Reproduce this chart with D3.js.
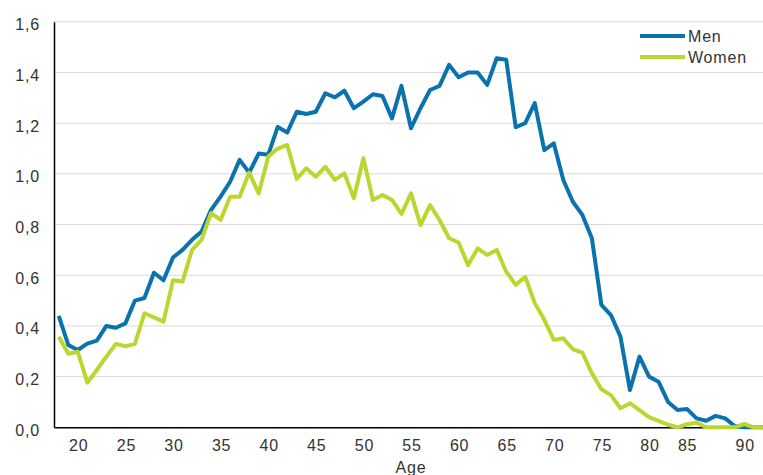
<!DOCTYPE html>
<html>
<head>
<meta charset="utf-8">
<script src="https://cdn.jsdelivr.net/npm/d3@7"></script>
<style>
  html, body { margin: 0; padding: 0; background: #ffffff; overflow: hidden; }
  svg { display: block; }
  text { font-family: "Liberation Sans", Arial, sans-serif; fill: #333333; }
</style>
</head>
<body>
<svg id="chart" width="763" height="475"></svg>
<script>
// ---- Data ----
const ages = d3.range(18, 93);
const menValues = [
  0.44, 0.325, 0.305, 0.33, 0.342, 0.40, 0.393, 0.41, 0.50, 0.51,
  0.61, 0.58, 0.67, 0.70, 0.74, 0.772, 0.858, 0.91, 0.969, 1.055,
  1.005, 1.08, 1.075, 1.185, 1.163, 1.245, 1.236, 1.245, 1.318, 1.302,
  1.328, 1.259, 1.285, 1.314, 1.307, 1.219, 1.347, 1.18, 1.259, 1.331,
  1.347, 1.43, 1.381, 1.40, 1.40, 1.351, 1.456, 1.45, 1.184, 1.20,
  1.279, 1.094, 1.12, 0.976, 0.89, 0.838, 0.746, 0.483, 0.443, 0.358,
  0.147, 0.279, 0.20, 0.18, 0.10, 0.068, 0.072, 0.035, 0.026, 0.045,
  0.035, 0.005, 0, 0, 0
];
const womenValues = [
  0.357, 0.29, 0.298, 0.176, 0.226, 0.279, 0.329, 0.32, 0.329, 0.45,
  0.434, 0.417, 0.58, 0.575, 0.70, 0.74, 0.845, 0.818, 0.91, 0.91,
  1.005, 0.923, 1.068, 1.10, 1.114, 0.98, 1.022, 0.989, 1.028, 0.976,
  1.002, 0.904, 1.062, 0.897, 0.917, 0.897, 0.842, 0.923, 0.798, 0.877,
  0.818, 0.746, 0.729, 0.64, 0.706, 0.68, 0.70, 0.614, 0.562, 0.594,
  0.49, 0.424, 0.345, 0.351, 0.308, 0.295, 0.213, 0.15, 0.127, 0.075,
  0.095, 0.068, 0.04, 0.025, 0.01, 0, 0.012, 0.018, 0, 0,
  0, 0, 0.013, 0, 0
];
const seriesNames = ["Men", "Women"];
const seriesColors = ["#0a72ad", "#bcd631"];
const xTickLabels = [20, 25, 30, 35, 40, 45, 50, 55, 60, 65, 70, 75, 80, 85, 90];
const yTickValues = [0, 0.2, 0.4, 0.6, 0.8, 1.0, 1.2, 1.4, 1.6];
const xAxisTitle = "Age";

// ---- Layout ----
const svg = d3.select("#chart");
const plotLeft = 54, plotRight = 768, plotTop = 21.8, plotBottom = 427.3;

const x = d3.scaleBand().domain(ages).range([plotLeft, plotRight]).paddingInner(0).paddingOuter(0);
const xc = a => x(a) + x.bandwidth() / 2;
const y = d3.scaleLinear().domain([0, 1.6]).range([plotBottom, plotTop]);

const fiLocale = d3.formatLocale({ decimal: ",", thousands: " ", grouping: [3], currency: ["", " €"] });
const fmt = fiLocale.format(".1f");

// gridlines
svg.append("g")
  .selectAll("line")
  .data(yTickValues.filter(v => v > 0))
  .join("line")
  .attr("x1", plotLeft).attr("x2", plotRight)
  .attr("y1", d => y(d)).attr("y2", d => y(d))
  .attr("stroke", "#d9d9d9").attr("stroke-width", 1);

// y axis
const yAxis = svg.append("g")
  .attr("transform", `translate(${plotLeft},0)`)
  .call(d3.axisLeft(y).tickValues(yTickValues).tickFormat(fmt).tickSize(0).tickPadding(14));
yAxis.select(".domain").attr("stroke", "#000").attr("stroke-width", 1.5);
yAxis.selectAll("text")
  .attr("font-size", 16).attr("fill", "#333").attr("dy", "0.5em")
  .attr("letter-spacing", "0.8px")
  .style("font-family", "'Liberation Sans', Arial, sans-serif");

// x axis
const xAxis = svg.append("g")
  .attr("transform", `translate(0,${plotBottom})`)
  .call(d3.axisBottom(x).tickValues(xTickLabels).tickSize(0).tickPadding(18));
xAxis.select(".domain").attr("stroke", "#000").attr("stroke-width", 1.5);
xAxis.selectAll("text")
  .attr("font-size", 16).attr("fill", "#333").attr("dy", "0.35em")
  .attr("letter-spacing", "0.8px")
  .attr("dx", d => d === 85 ? -9 : 1)
  .style("font-family", "'Liberation Sans', Arial, sans-serif");

// axis title
svg.append("text")
  .attr("x", 411).attr("y", 473)
  .attr("text-anchor", "middle")
  .attr("font-size", 16)
  .attr("letter-spacing", "0.8px")
  .text(xAxisTitle);

// lines
const allSeries = [menValues, womenValues];
const line = d3.line().x((d, i) => xc(ages[i])).y(d => y(d));
svg.append("g")
  .selectAll("path")
  .data(allSeries)
  .join("path")
  .attr("d", d => line(d))
  .attr("fill", "none")
  .attr("stroke", (d, i) => seriesColors[i])
  .attr("stroke-width", 4)
  .attr("stroke-linejoin", "round")
  .attr("stroke-linecap", "butt");

// legend
const legend = svg.append("g").attr("transform", "translate(640,36)");
seriesNames.forEach((name, i) => {
  const g = legend.append("g").attr("transform", `translate(0,${i * 21})`);
  g.append("line").attr("x1", 0).attr("x2", 45).attr("y1", 0).attr("y2", 0)
    .attr("stroke", seriesColors[i]).attr("stroke-width", 4);
  g.append("text").attr("x", 48).attr("y", 6)
    .attr("font-size", 16).attr("letter-spacing", "0.8px").text(name);
});
</script>
</body>
</html>
